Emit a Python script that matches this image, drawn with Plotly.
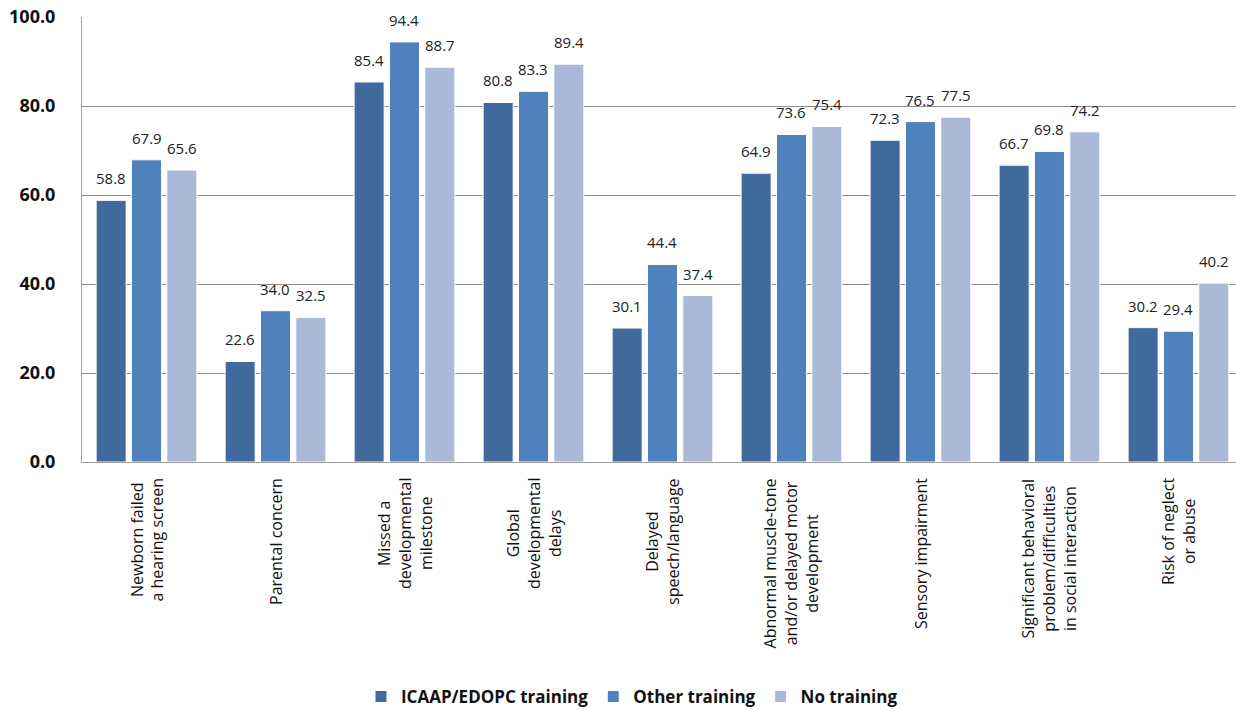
import plotly.graph_objects as go

categories = [
    "Newborn failed<br>a hearing screen",
    "Parental concern",
    "Missed a<br>developmental<br>milestone",
    "Global<br>developmental<br>delays",
    "Delayed<br>speech/language",
    "Abnormal muscle-tone<br>and/or delayed motor<br>development",
    "Sensory impairment",
    "Significant behavioral<br>problem/difficulties<br>in social interaction",
    "Risk of neglect<br>or abuse",
]
series_names = ["ICAAP/EDOPC training", "Other training", "No training"]
icaap = [58.8, 22.6, 85.4, 80.8, 30.1, 64.9, 72.3, 66.7, 30.2]
other = [67.9, 34.0, 94.4, 83.3, 44.4, 73.6, 76.5, 69.8, 29.4]
none_ = [65.6, 32.5, 88.7, 89.4, 37.4, 75.4, 77.5, 74.2, 40.2]
y_ticks = [0, 20, 40, 60, 80, 100]

colors = ["#3F6A9B", "#4F81BD", "#AAB9D8"]
W, H = 1236, 710
ML, MR, MT, MB = 82, 0, 17, 248
x_range = [-0.5, 8.446]
bargap = 0.178
font = "Open Sans"

fig = go.Figure()
keys = [f"c{i}" for i in range(len(categories))]
for name, vals, col in zip(series_names, [icaap, other, none_], colors):
    fig.add_trace(go.Bar(
        x=keys, y=vals, name=name,
        marker=dict(color=col, line=dict(color="white", width=1)),
    ))

# data labels above bars
plot_w = W - ML - MR
cat_px = plot_w / (x_range[1] - x_range[0])
slot = cat_px * (1 - bargap) / 3
annotations = []
for j, vals in enumerate([icaap, other, none_]):
    for k, v in zip(keys, vals):
        annotations.append(dict(
            x=k, y=v, xref="x", yref="y", text=f"{v:.1f}", showarrow=False,
            xshift=(j - 1) * slot, yshift=22, yanchor="middle",
            font=dict(family=font, size=15, color="#222222"),
        ))
# category labels (rotated, centered lines)
for k, c in zip(keys, categories):
    annotations.append(dict(
        x=k, y=0, xref="x", yref="paper", text=c, showarrow=False,
        textangle=-90, align="center", xanchor="center", yanchor="top",
        yshift=-14, font=dict(family=font, size=16, color="#111111"),
    ))

fig.update_layout(
    width=W, height=H,
    margin=dict(l=ML, r=MR, t=MT, b=MB, autoexpand=False),
    paper_bgcolor="white", plot_bgcolor="white",
    barmode="group", bargap=bargap, bargroupgap=0.15,
    annotations=annotations,
    legend=dict(
        orientation="h", x=0.4766, xanchor="center", y=-0.528, yanchor="middle",
        font=dict(family=font, size=17, color="#111111", weight="bold"),
        itemwidth=30, traceorder="normal",
    ),
    xaxis=dict(
        range=x_range, showticklabels=False, showgrid=False,
        showline=True, linecolor="#A0A0A0", linewidth=1, ticks="",
    ),
    yaxis=dict(
        range=[0, 100], tickvals=y_ticks, ticktext=[f"{t:.1f}" for t in y_ticks],
        showgrid=True, gridcolor="#8C8C8C", gridwidth=1,
        showline=True, linecolor="#A0A0A0", linewidth=1, zeroline=False,
        ticks="", ticklabelstandoff=22,
        tickfont=dict(family=font, size=18, color="#111111", weight="bold"),
    ),
)

fig.write_html("out.html")
